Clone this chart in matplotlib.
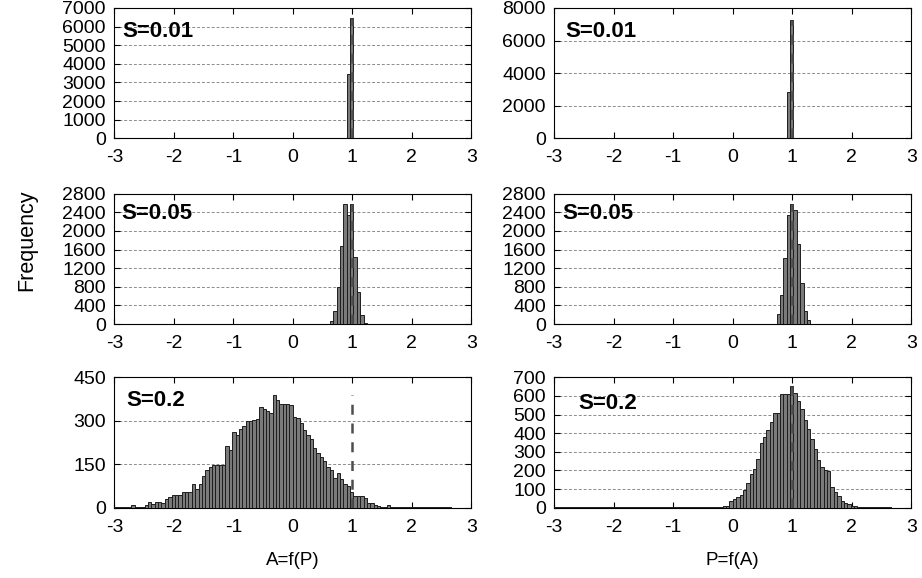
import numpy as np
import matplotlib
matplotlib.use('Agg')
import matplotlib.pyplot as plt

plt.rcParams['font.family'] = ['Liberation Sans', 'DejaVu Sans']
plt.rcParams['axes.unicode_minus'] = False

# 100 histogram bins from -3 to 2.66
bin_width = 0.0566
bin_left = -3 + bin_width * np.arange(100)

# S=0.01
a_s001 = [0, 0, 0, 0, 0, 0, 0, 0, 0, 0,
          0, 0, 0, 0, 0, 0, 0, 0, 0, 0,
          0, 0, 0, 0, 0, 0, 0, 0, 0, 0,
          0, 0, 0, 0, 0, 0, 0, 0, 0, 0,
          0, 0, 0, 0, 0, 0, 0, 0, 0, 0,
          0, 0, 0, 0, 0, 0, 0, 0, 0, 0,
          0, 0, 0, 0, 0, 0, 0, 0, 0, 3474,
          6450, 0, 0, 0, 0, 0, 0, 0, 0, 0,
          0, 0, 0, 0, 0, 0, 0, 0, 0, 0,
          0, 0, 0, 0, 0, 0, 0, 0, 0, 0]
p_s001 = [0, 0, 0, 0, 0, 0, 0, 0, 0, 0,
          0, 0, 0, 0, 0, 0, 0, 0, 0, 0,
          0, 0, 0, 0, 0, 0, 0, 0, 0, 0,
          0, 0, 0, 0, 0, 0, 0, 0, 0, 0,
          0, 0, 0, 0, 0, 0, 0, 0, 0, 0,
          0, 0, 0, 0, 0, 0, 0, 0, 0, 0,
          0, 0, 0, 0, 0, 0, 0, 0, 0, 2870,
          7280, 0, 0, 0, 0, 0, 0, 0, 0, 0,
          0, 0, 0, 0, 0, 0, 0, 0, 0, 0,
          0, 0, 0, 0, 0, 0, 0, 0, 0, 0]

# S=0.05
a_s005 = [0, 0, 0, 0, 0, 0, 0, 0, 0, 0,
          0, 0, 0, 0, 0, 0, 0, 0, 0, 0,
          0, 0, 0, 0, 0, 0, 0, 0, 0, 0,
          0, 0, 0, 0, 0, 0, 0, 0, 0, 0,
          0, 0, 0, 0, 0, 0, 0, 0, 0, 0,
          0, 0, 0, 0, 0, 0, 0, 0, 0, 0,
          0, 0, 0, 0, 71, 278, 785, 1670, 2570, 2335,
          2570, 1440, 680, 190, 30, 0, 0, 0, 0, 0,
          0, 0, 0, 0, 0, 0, 0, 0, 0, 0,
          0, 0, 0, 0, 0, 0, 0, 0, 0, 0]
p_s005 = [0, 0, 0, 0, 0, 0, 0, 0, 0, 0,
          0, 0, 0, 0, 0, 0, 0, 0, 0, 0,
          0, 0, 0, 0, 0, 0, 0, 0, 0, 0,
          0, 0, 0, 0, 0, 0, 0, 0, 0, 0,
          0, 0, 0, 0, 0, 0, 0, 0, 0, 0,
          0, 0, 0, 0, 0, 0, 0, 0, 0, 0,
          0, 0, 0, 0, 0, 0, 207, 621, 1428, 2335,
          2570, 2456, 1728, 885, 278, 86, 0, 0, 0, 0,
          0, 0, 0, 0, 0, 0, 0, 0, 0, 0,
          0, 0, 0, 0, 0, 0, 0, 0, 0, 0]

# S=0.2
a_s02 = [2, 2, 2, 2, 2, 9, 2, 2, 4, 8,
         19, 14, 20, 20, 16, 31, 36, 43, 43, 43,
         53, 53, 53, 81, 64, 83, 108, 130, 141, 147,
         147, 147, 148, 212, 200, 262, 250, 273, 283, 300,
         300, 303, 306, 349, 340, 334, 328, 390, 372, 357,
         357, 357, 356, 312, 310, 291, 267, 250, 236, 207,
         190, 176, 160, 141, 130, 102, 120, 99, 83, 76,
         53, 42, 42, 40, 33, 15, 15, 9, 5, 2,
         2, 9, 2, 2, 2, 2, 2, 2, 2, 2,
         2, 2, 2, 2, 2, 2, 2, 2, 2, 2]
p_s02 = [2, 2, 2, 2, 2, 2, 2, 2, 2, 2,
         2, 2, 2, 2, 2, 2, 2, 2, 2, 2,
         2, 2, 2, 2, 2, 2, 2, 2, 2, 2,
         2, 2, 2, 2, 2, 2, 2, 2, 2, 2,
         2, 2, 2, 2, 2, 2, 2, 2, 2, 5,
         8, 10, 38, 45, 55, 69, 95, 131, 182, 209,
         260, 345, 378, 415, 460, 509, 509, 609, 612, 609,
         655, 618, 573, 531, 473, 422, 369, 313, 255, 218,
         200, 196, 113, 87, 64, 36, 27, 18, 9, 7,
         3, 3, 3, 3, 3, 3, 3, 3, 3, 3]

panels = [
    (a_s001, 'S=0.01', 7000, [0, 1000, 2000, 3000, 4000, 5000, 6000, 7000]),
    (p_s001, 'S=0.01', 8000, [0, 2000, 4000, 6000, 8000]),
    (a_s005, 'S=0.05', 2800, [0, 400, 800, 1200, 1600, 2000, 2400, 2800]),
    (p_s005, 'S=0.05', 2800, [0, 400, 800, 1200, 1600, 2000, 2400, 2800]),
    (a_s02, 'S=0.2', 450, [0, 150, 300, 450]),
    (p_s02, 'S=0.2', 700, [0, 100, 200, 300, 400, 500, 600, 700]),
]
xlabels = ['A=f(P)', 'P=f(A)']

fig = plt.figure(figsize=(9.22, 5.78), dpi=100)
col_x = [0.124, 0.6012]
row_y = [0.7607, 0.4394, 0.1216]
ax_w, ax_h = 0.3872, 0.2256
label_pos = [(0.022, 0.82), (0.03, 0.82), (0.02, 0.85),
             (0.022, 0.85), (0.033, 0.82), (0.066, 0.80)]

for i, (counts, name, ymax, yticks) in enumerate(panels):
    row, col = divmod(i, 2)
    ax = fig.add_axes([col_x[col], row_y[row], ax_w, ax_h])
    ax.bar(bin_left, counts, width=bin_width, align='edge', color='#7a7a7a',
           edgecolor='#1e1e1e', linewidth=0.7, zorder=3)
    ax.vlines(1.0, 0, max(counts), colors='#4d4d4d',
              linestyles=(0, (4, 3.5)), linewidth=1.8, zorder=4)
    for y in yticks[1:-1]:
        ax.axhline(y, color='#8c8c8c', lw=0.7, ls=(0, (3, 2)), zorder=1)
    ax.set_xlim(-3, 3)
    ax.set_ylim(0, ymax)
    ax.set_xticks(range(-3, 4))
    ax.set_yticks(yticks)
    ax.tick_params(direction='in', top=True, right=True, length=4,
                   width=0.8, labelsize=14)
    ax.tick_params(axis='x', pad=8)
    ax.tick_params(axis='y', pad=6)
    for s in ax.spines.values():
        s.set_linewidth(0.8)
    lx, ly = label_pos[i]
    ax.text(lx, ly, name, transform=ax.transAxes, fontsize=16,
            fontweight='bold', va='center', ha='left', zorder=5)
    if row == 2:
        fig.text(col_x[col] + ax_w / 2, 0.031, xlabels[col], fontsize=13.5,
                 ha='center', va='center')

fig.text(0.029, 0.585, 'Frequency', rotation=90, fontsize=15.5,
         ha='center', va='center')

fig.savefig('out.png', dpi=100)
